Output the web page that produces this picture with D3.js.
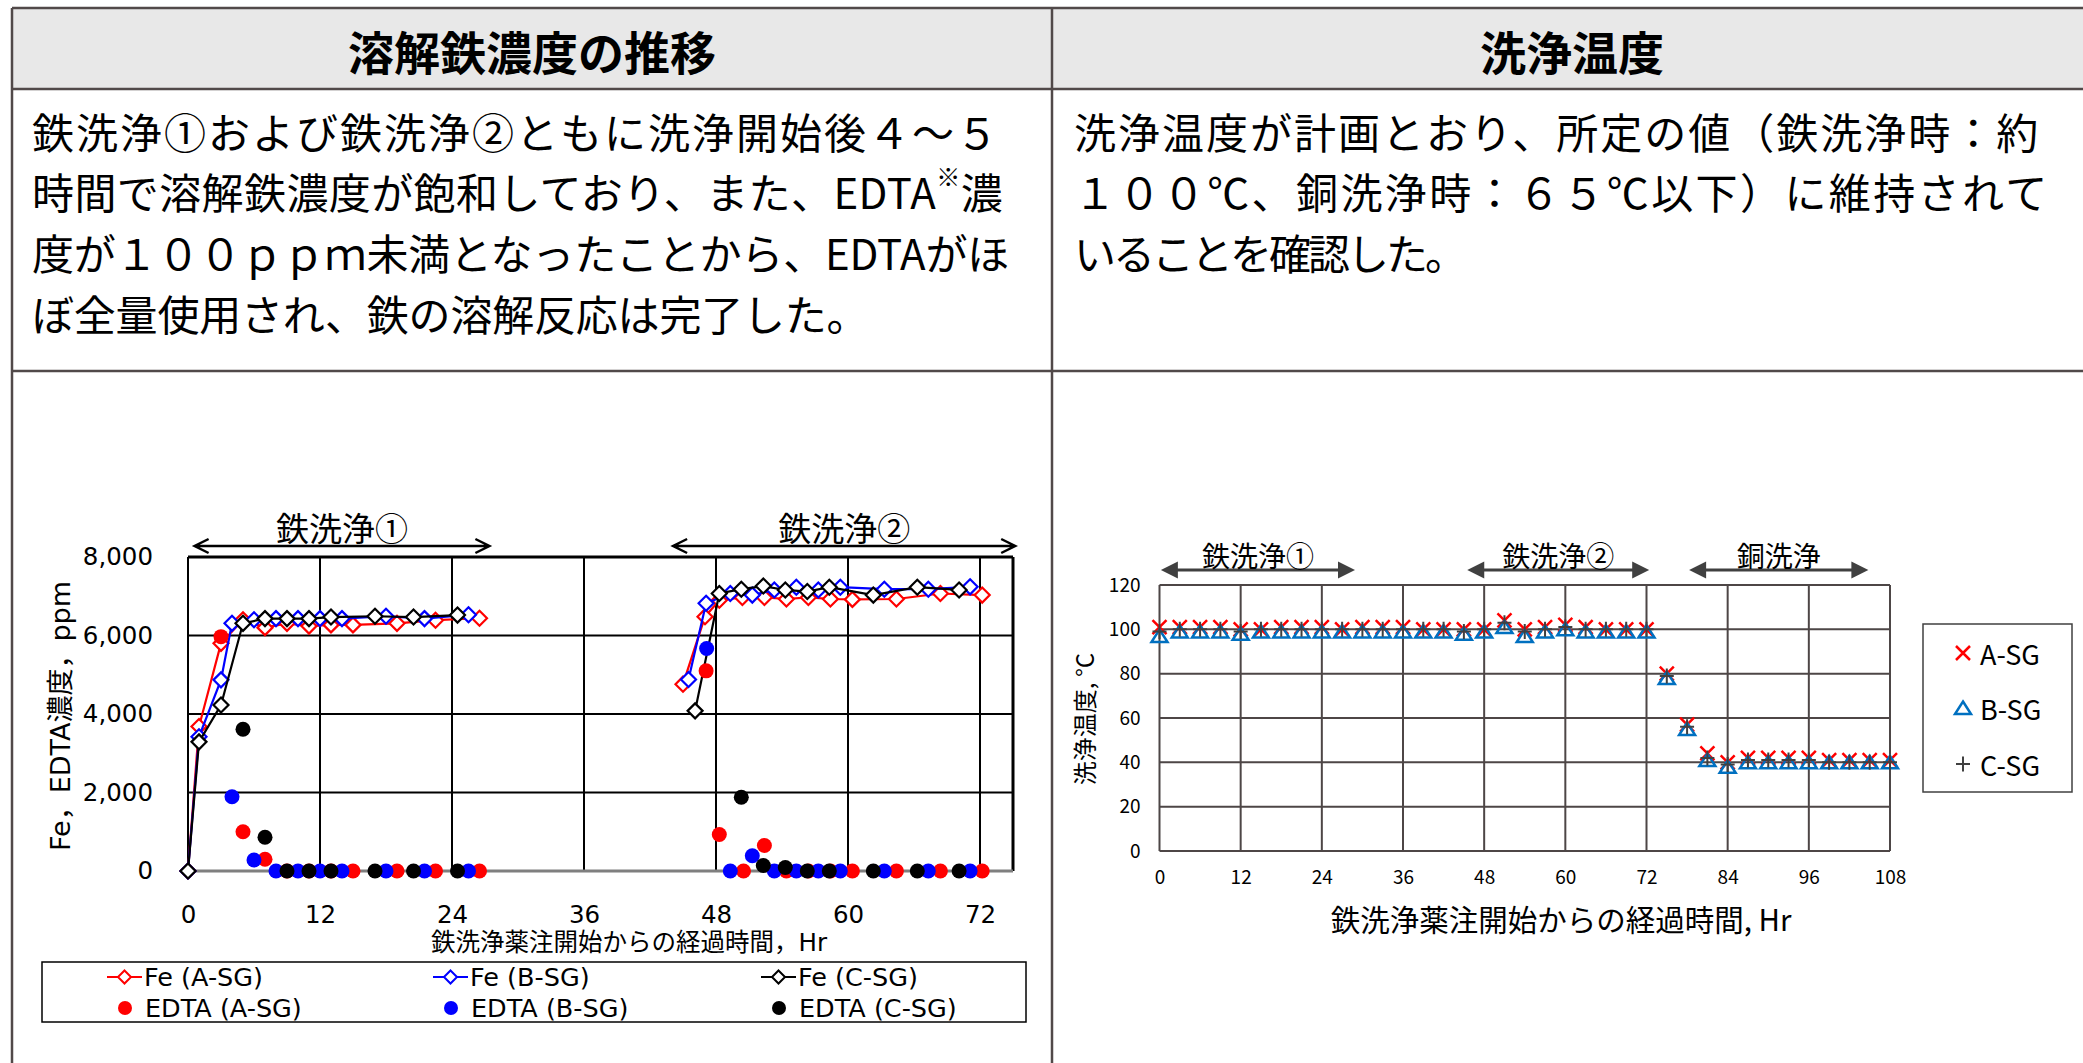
<!DOCTYPE html>
<html>
<head>
<meta charset="utf-8">
<script src="https://cdn.jsdelivr.net/npm/d3@7"></script>
<style>
  html, body { margin: 0; padding: 0; background: #ffffff; }
  svg { display: block; }
</style>
</head>
<body>
<script>
// ---------- Left chart: dissolved iron / EDTA concentration ----------
const xTicksLeft = [0, 12, 24, 36, 48, 60, 72];
const yTicksLeft = [0, 2000, 4000, 6000, 8000];

// null marks the gap between the two iron cleaning runs
const feHoursA = [0, 1, 3, 5, 7, 9, 11, 13, 15, 19, 22.5, 26.5, null, 45, 47, 48.3, 50.4, 52.4, 54.4, 56.4, 58.4, 60.4, 64.4, 68.4, 72.2];
const feValuesA = [0, 3680, 5800, 6400, 6200, 6310, 6240, 6270, 6270, 6310, 6390, 6440, null, 4760, 6480, 6900, 6970, 6970, 6930, 6970, 6930, 6920, 6930, 7070, 7030];
const feHoursB = [0, 1, 3, 4, 6, 8, 10, 12, 14, 18, 21.5, 25.5, null, 45.5, 47.1, 49.3, 51.3, 53.3, 55.3, 57.3, 59.3, 63.3, 67.3, 71.1];
const feValuesB = [0, 3420, 4870, 6310, 6400, 6430, 6430, 6430, 6430, 6490, 6430, 6530, null, 4880, 6820, 7070, 7030, 7160, 7230, 7160, 7230, 7180, 7180, 7240];
const feHoursC = [0, 1, 3, 5, 7, 9, 11, 13, 17, 20.5, 24.5, null, 46.1, 48.3, 50.3, 52.3, 54.3, 56.3, 58.3, 62.3, 66.3, 70.1];
const feValuesC = [0, 3290, 4230, 6310, 6430, 6430, 6430, 6470, 6490, 6470, 6520, null, 4080, 7070, 7180, 7260, 7160, 7120, 7230, 7030, 7230, 7160];

const edtaHoursA = [3, 5, 7, 9, 11, 13, 15, 19, 22.5, 26.5, 47.1, 48.3, 50.5, 52.4, 54.4, 56.4, 58.4, 60.4, 64.4, 68.4, 72.2];
const edtaValuesA = [5970, 1000, 300, 0, 0, 0, 0, 0, 0, 0, 5100, 930, 0, 650, 0, 0, 0, 0, 0, 0, 0];
const edtaHoursB = [4, 6, 8, 10, 12, 14, 18, 21.5, 25.5, 47.15, 49.3, 51.3, 53.3, 55.3, 57.3, 59.3, 63.3, 67.3, 71.1];
const edtaValuesB = [1890, 280, 0, 0, 0, 0, 0, 0, 0, 5670, 0, 390, 0, 0, 0, 0, 0, 0, 0];
const edtaHoursC = [5, 7, 9, 11, 13, 17, 20.5, 24.5, 50.3, 52.3, 54.3, 56.3, 58.3, 62.3, 66.3, 70.1];
const edtaValuesC = [3610, 860, 0, 0, 0, 0, 0, 0, 1880, 140, 90, 0, 0, 0, 0, 0];

const periodNamesLeft = ["鉄洗浄①", "鉄洗浄②"];
const periodStartLeft = [0.6, 44.1];
const periodEndLeft = [27.4, 75.2];

// ---------- Right chart: cleaning temperature ----------
const tempHours = [0, 3, 6, 9, 12, 15, 18, 21, 24, 27, 30, 33, 36, 39, 42, 45, 48, 51, 54, 57, 60, 63, 66, 69, 72, 75, 78, 81, 84, 87, 90, 93, 96, 99, 102, 105, 108];
const tempA = [101, 101, 101, 101, 100, 100, 101, 101, 101, 100, 101, 101, 101, 100, 100, 100, 100, 104, 100, 101, 102, 101, 100, 100, 100, 80, 57, 44, 40, 42, 42, 42, 42, 41, 41, 41, 41];
const tempB = [97, 99, 99, 99, 98, 99, 99, 99, 99, 99, 99, 99, 99, 99, 99, 98, 99, 101, 97, 99, 100, 99, 99, 99, 99, 78, 55, 41, 38, 40, 40, 40, 40, 40, 40, 40, 40];
const tempC = [99, 100, 100, 100, 99, 100, 100, 100, 100, 100, 100, 100, 100, 100, 100, 99, 100, 103, 99, 100, 101, 100, 100, 100, 100, 79, 56, 42, 39, 41, 41, 41, 41, 40, 40, 40, 40];
const xTicksRight = [0, 12, 24, 36, 48, 60, 72, 84, 96, 108];
const yTicksRight = [0, 20, 40, 60, 80, 100, 120];
const periodNamesRight = ["鉄洗浄①", "鉄洗浄②", "銅洗浄"];
const periodStartRight = [0.2, 45.5, 78.3];
const periodEndRight = [28.9, 72.4, 104.8];
const tempLegend = ["A-SG", "B-SG", "C-SG"];

// ---------- Table texts ----------
const headers = ["溶解鉄濃度の推移", "洗浄温度"];
const leftLines = [
  ["鉄洗浄①および鉄洗浄②ともに洗浄開始後４～５"],
  ["時間で溶解鉄濃度が飽和しており、また、EDTA", "※", "濃"],
  ["度が１００ｐｐｍ未満となったことから、EDTAがほ"],
  ["ぼ全量使用され、鉄の溶解反応は完了した。"]
];
const leftSpacing = [2, 0.4, -0.2, -0.2];
const rightLines = [
  "洗浄温度が計画とおり、所定の値（鉄洗浄時：約",
  "１００℃、銅洗浄時：６５℃以下）に維持されて",
  "いることを確認した。"
];
const rightSpacing = [2, 2.4, -3];

const W = 2083, H = 1063;
const JP = "'Noto Sans CJK JP', 'Noto Sans', sans-serif";
const DV = "'DejaVu Sans', 'Noto Sans CJK JP', sans-serif";
const borderColor = "#514949";

const svg = d3.select("body").append("svg").attr("width", W).attr("height", H);
svg.append("rect").attr("width", W).attr("height", H).attr("fill", "#ffffff");

// ---------- Table frame ----------
const tLeft = 12, tTop = 8, hBottom = 89, rowLine = 371, colLine = 1052;
svg.append("rect").attr("x", tLeft).attr("y", tTop).attr("width", W - tLeft + 5).attr("height", hBottom - tTop)
  .attr("fill", "#e8e8e8");
const tbl = svg.append("g").attr("stroke", borderColor).attr("stroke-width", 2.5);
tbl.append("line").attr("x1", tLeft).attr("x2", W + 5).attr("y1", tTop).attr("y2", tTop);
tbl.append("line").attr("x1", tLeft).attr("x2", W + 5).attr("y1", hBottom).attr("y2", hBottom);
tbl.append("line").attr("x1", tLeft).attr("x2", W + 5).attr("y1", rowLine).attr("y2", rowLine);
tbl.append("line").attr("x1", tLeft).attr("x2", tLeft).attr("y1", tTop).attr("y2", H + 5);
tbl.append("line").attr("x1", colLine).attr("x2", colLine).attr("y1", tTop).attr("y2", H + 5);

svg.selectAll("text.hdr").data(headers).join("text")
  .attr("class", "hdr")
  .attr("x", (d, i) => i === 0 ? 532 : 1572)
  .attr("y", 50)
  .attr("text-anchor", "middle").attr("dominant-baseline", "central")
  .attr("font-family", JP).attr("font-weight", "bold").attr("font-size", 46)
  .attr("fill", "#000").text(d => d);

const lineYs = [130, 190, 251, 312];
leftLines.forEach((parts, i) => {
  const t = svg.append("text").attr("x", 32).attr("y", lineYs[i])
    .attr("dominant-baseline", "central").attr("letter-spacing", leftSpacing[i])
    .attr("font-family", JP).attr("font-size", 42).attr("fill", "#000");
  parts.forEach(p => {
    const s = t.append("tspan").text(p);
    if (p === "※") s.attr("font-size", 24).attr("baseline-shift", "60%");
  });
});
rightLines.forEach((p, i) => {
  svg.append("text").attr("x", 1074).attr("y", lineYs[i])
    .attr("dominant-baseline", "central").attr("letter-spacing", rightSpacing[i])
    .attr("font-family", JP).attr("font-size", 42).attr("fill", "#000").text(p);
});

// ---------- Left chart ----------
const xL = d3.scaleLinear().domain([0, 75]).range([188, 1013]);
const yL = d3.scaleLinear().domain([0, 8000]).range([871, 557]);
const gL = svg.append("g");

// grid
gL.selectAll("line.hg").data(yTicksLeft.filter(v => v > 0 && v < 8000)).join("line")
  .attr("x1", xL(0)).attr("x2", xL(75)).attr("y1", d => yL(d)).attr("y2", d => yL(d))
  .attr("stroke", "#000").attr("stroke-width", 2);
gL.selectAll("line.vg").data(xTicksLeft.filter(v => v > 0)).join("line")
  .attr("x1", d => xL(d)).attr("x2", d => xL(d)).attr("y1", yL(8000)).attr("y2", yL(0))
  .attr("stroke", "#000").attr("stroke-width", 2);
// frame
gL.append("line").attr("x1", xL(0)).attr("x2", xL(75)).attr("y1", yL(8000)).attr("y2", yL(8000))
  .attr("stroke", "#000").attr("stroke-width", 3);
gL.append("line").attr("x1", xL(75)).attr("x2", xL(75)).attr("y1", yL(8000)).attr("y2", yL(0))
  .attr("stroke", "#000").attr("stroke-width", 3);
gL.append("line").attr("x1", xL(0)).attr("x2", xL(0)).attr("y1", yL(8000)).attr("y2", yL(0))
  .attr("stroke", "#000").attr("stroke-width", 2);
gL.append("line").attr("x1", xL(0)).attr("x2", xL(75)).attr("y1", yL(0)).attr("y2", yL(0))
  .attr("stroke", "#7f7f7f").attr("stroke-width", 3);

// axes labels
const axL = gL.append("g").attr("transform", `translate(${xL(0)},0)`)
  .call(d3.axisLeft(yL).tickValues(yTicksLeft).tickFormat(d3.format(",")).tickSize(0).tickPadding(35));
axL.select(".domain").remove();
axL.selectAll("text").attr("font-family", DV).attr("font-size", 24.5).attr("fill", "#000");
const axB = gL.append("g").attr("transform", `translate(0,${yL(0)})`)
  .call(d3.axisBottom(xL).tickValues(xTicksLeft).tickSize(0));
axB.select(".domain").remove();
axB.selectAll("text").attr("y", 43).attr("dy", "0.35em")
  .attr("font-family", DV).attr("font-size", 24.5).attr("fill", "#000");

gL.append("text").attr("transform", "translate(60,716) rotate(-90)")
  .attr("text-anchor", "middle").attr("dominant-baseline", "central")
  .attr("font-family", DV).attr("font-size", 27).attr("fill", "#000")
  .text("Fe，EDTA濃度，ppm");
gL.append("text").attr("x", 629).attr("y", 942)
  .attr("text-anchor", "middle").attr("dominant-baseline", "central")
  .attr("font-family", DV).attr("font-size", 24.5).attr("fill", "#000")
  .text("鉄洗浄薬注開始からの経過時間，Hr");

// period arrows (open heads)
const arrowY = 546;
periodNamesLeft.forEach((name, i) => {
  const a = xL(periodStartLeft[i]), b = xL(periodEndLeft[i]);
  const p = d3.path();
  p.moveTo(a, arrowY); p.lineTo(b, arrowY);
  p.moveTo(a + 14, arrowY - 7); p.lineTo(a, arrowY); p.lineTo(a + 14, arrowY + 7);
  p.moveTo(b - 14, arrowY - 7); p.lineTo(b, arrowY); p.lineTo(b - 14, arrowY + 7);
  gL.append("path").attr("d", p.toString()).attr("fill", "none")
    .attr("stroke", "#000").attr("stroke-width", 2.5);
  gL.append("text").attr("x", (a + b) / 2).attr("y", 527)
    .attr("text-anchor", "middle").attr("dominant-baseline", "central")
    .attr("font-family", JP).attr("font-size", 33).attr("fill", "#000").text(name);
});

// Fe series (lines with open diamonds)
const diamond = r => `M0,${-r}L${r},0L0,${r}L${-r},0Z`;
const feSeries = [
  { hours: feHoursA, values: feValuesA, color: "#ff0000" },
  { hours: feHoursB, values: feValuesB, color: "#0000ff" },
  { hours: feHoursC, values: feValuesC, color: "#000000" }
];
const lineGen = d3.line().defined(d => d.v !== null).x(d => xL(d.t)).y(d => yL(d.v));
feSeries.forEach(s => {
  const pts = s.hours.map((t, i) => ({ t, v: s.values[i] }));
  gL.append("path").datum(pts).attr("d", lineGen)
    .attr("fill", "none").attr("stroke", s.color).attr("stroke-width", 2.2);
  gL.selectAll(null).data(pts.filter(d => d.v !== null)).join("path")
    .attr("d", diamond(7.5))
    .attr("transform", d => `translate(${xL(d.t)},${yL(d.v)})`)
    .attr("fill", "#fff").attr("stroke", s.color).attr("stroke-width", 2.2);
});

// EDTA series (filled dots)
const edtaSeries = [
  { hours: edtaHoursA, values: edtaValuesA, color: "#ff0000" },
  { hours: edtaHoursB, values: edtaValuesB, color: "#0000ff" },
  { hours: edtaHoursC, values: edtaValuesC, color: "#000000" }
];
edtaSeries.forEach(s => {
  gL.selectAll(null).data(s.hours.map((t, i) => ({ t, v: s.values[i] }))).join("circle")
    .attr("cx", d => xL(d.t)).attr("cy", d => yL(d.v)).attr("r", 7.5)
    .attr("fill", s.color);
});

// legend
const legL = gL.append("g");
legL.append("rect").attr("x", 42).attr("y", 962).attr("width", 984).attr("height", 60)
  .attr("fill", "#fff").attr("stroke", "#000").attr("stroke-width", 1.5);
const legCols = [107, 433, 761];
const legNames = ["A-SG", "B-SG", "C-SG"];
feSeries.forEach((s, i) => {
  const x0 = legCols[i];
  legL.append("line").attr("x1", x0).attr("x2", x0 + 35).attr("y1", 977).attr("y2", 977)
    .attr("stroke", s.color).attr("stroke-width", 2.2);
  legL.append("path").attr("d", diamond(6.5)).attr("transform", `translate(${x0 + 17.5},977)`)
    .attr("fill", "#fff").attr("stroke", s.color).attr("stroke-width", 2);
  legL.append("text").attr("x", x0 + 37).attr("y", 977).attr("dominant-baseline", "central")
    .attr("font-family", DV).attr("font-size", 25.5).attr("fill", "#000").text(`Fe (${legNames[i]})`);
  legL.append("circle").attr("cx", x0 + 18).attr("cy", 1008).attr("r", 7).attr("fill", edtaSeries[i].color);
  legL.append("text").attr("x", x0 + 38).attr("y", 1008).attr("dominant-baseline", "central")
    .attr("font-family", DV).attr("font-size", 25.5).attr("fill", "#000").text(`EDTA (${legNames[i]})`);
});

// ---------- Right chart ----------
const xR = d3.scaleLinear().domain([0, 108]).range([1159.5, 1890]);
const yR = d3.scaleLinear().domain([0, 120]).range([851, 585]);
const gR = svg.append("g");
const gridColor = "#4d4646";

gR.selectAll("line.hg").data(yTicksRight).join("line")
  .attr("x1", xR(0)).attr("x2", xR(108)).attr("y1", d => yR(d)).attr("y2", d => yR(d))
  .attr("stroke", gridColor).attr("stroke-width", 2);
gR.selectAll("line.vg").data(xTicksRight).join("line")
  .attr("x1", d => xR(d)).attr("x2", d => xR(d)).attr("y1", yR(120)).attr("y2", yR(0))
  .attr("stroke", gridColor).attr("stroke-width", 2);

const ayR = gR.append("g").attr("transform", `translate(${xR(0)},0)`)
  .call(d3.axisLeft(yR).tickValues(yTicksRight).tickSize(0).tickPadding(19));
ayR.select(".domain").remove();
ayR.selectAll("text").attr("font-family", JP).attr("font-size", 19).attr("fill", "#000");
const axR = gR.append("g").attr("transform", `translate(0,${yR(0)})`)
  .call(d3.axisBottom(xR).tickValues(xTicksRight).tickSize(0));
axR.select(".domain").remove();
axR.selectAll("text").attr("y", 26).attr("dy", "0.35em")
  .attr("font-family", JP).attr("font-size", 19).attr("fill", "#000");

gR.append("text").attr("transform", "translate(1083,719) rotate(-90)")
  .attr("text-anchor", "middle").attr("dominant-baseline", "central")
  .attr("font-family", JP).attr("font-size", 24).attr("fill", "#000").text("洗浄温度, °C");
gR.append("text").attr("x", 1561).attr("y", 918)
  .attr("text-anchor", "middle").attr("dominant-baseline", "central")
  .attr("font-family", JP).attr("font-size", 29.5).attr("fill", "#000")
  .text("鉄洗浄薬注開始からの経過時間, Hr");

// period arrows (filled heads)
const arrowYR = 570;
periodNamesRight.forEach((name, i) => {
  const a = xR(periodStartRight[i]), b = xR(periodEndRight[i]);
  gR.append("line").attr("x1", a + 10).attr("x2", b - 10).attr("y1", arrowYR).attr("y2", arrowYR)
    .attr("stroke", "#404040").attr("stroke-width", 3);
  gR.append("path").attr("d", `M${a},${arrowYR}L${a + 17},${arrowYR - 8.5}L${a + 17},${arrowYR + 8.5}Z`)
    .attr("fill", "#404040");
  gR.append("path").attr("d", `M${b},${arrowYR}L${b - 17},${arrowYR - 8.5}L${b - 17},${arrowYR + 8.5}Z`)
    .attr("fill", "#404040");
  gR.append("text").attr("x", (a + b) / 2).attr("y", 555)
    .attr("text-anchor", "middle").attr("dominant-baseline", "central")
    .attr("font-family", JP).attr("font-size", 28).attr("fill", "#000").text(name);
});

// temperature markers
const markX = "M-7,-7L7,7M-7,7L7,-7";
const markTri = "M0,-6.5L8,6L-8,6Z";
const markPlus = "M-7,0L7,0M0,-7.5L0,7.5";
const tempSeries = [
  { values: tempA, path: markX, color: "#ff0000", w: 2.5 },
  { values: tempB, path: markTri, color: "#0070c0", w: 2.5 },
  { values: tempC, path: markPlus, color: "#404040", w: 2 }
];
tempSeries.forEach(s => {
  gR.selectAll(null).data(tempHours.map((t, i) => ({ t, v: s.values[i] }))).join("path")
    .attr("d", s.path)
    .attr("transform", d => `translate(${xR(d.t)},${yR(d.v)})`)
    .attr("fill", "none").attr("stroke", s.color).attr("stroke-width", s.w);
});

// legend
const legR = gR.append("g");
legR.append("rect").attr("x", 1923).attr("y", 624).attr("width", 149).attr("height", 168)
  .attr("fill", "#fff").attr("stroke", "#404040").attr("stroke-width", 1.5);
const legRowsR = [653, 708, 764];
tempSeries.forEach((s, i) => {
  legR.append("path").attr("d", s.path).attr("transform", `translate(1963,${legRowsR[i]})`)
    .attr("fill", "none").attr("stroke", s.color).attr("stroke-width", s.w);
  legR.append("text").attr("x", 1980).attr("y", legRowsR[i]).attr("dominant-baseline", "central")
    .attr("font-family", JP).attr("font-size", 27).attr("fill", "#000").text(tempLegend[i]);
});
</script>
</body>
</html>
